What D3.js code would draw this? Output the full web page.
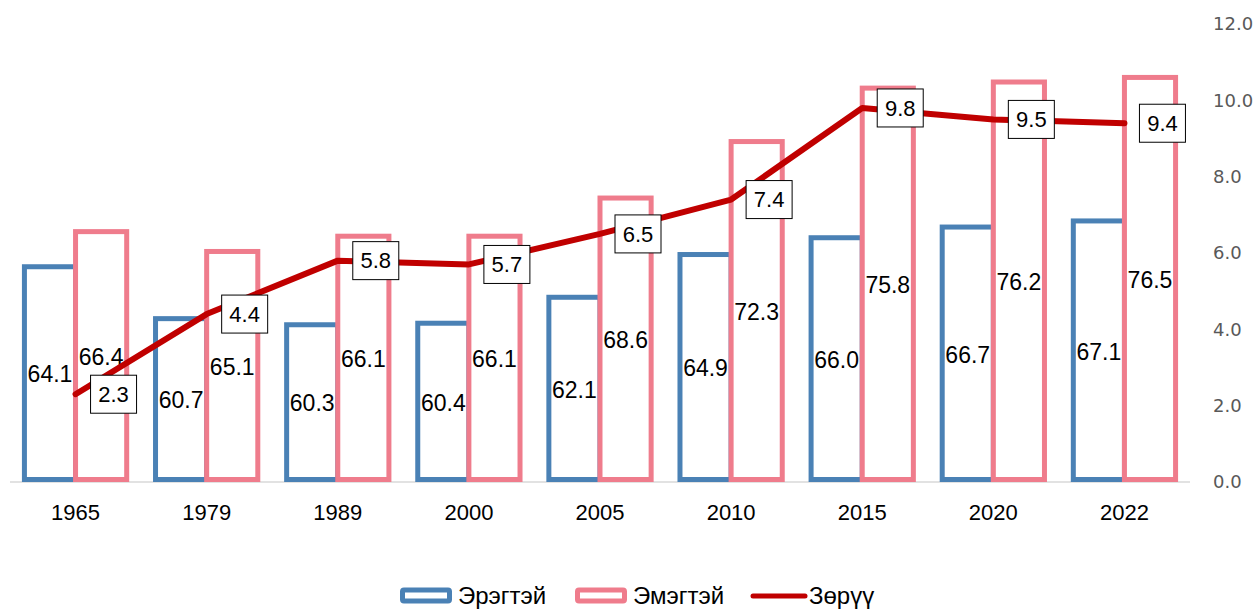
<!DOCTYPE html>
<html><head><meta charset="utf-8">
<script src="https://cdn.jsdelivr.net/npm/d3@7"></script>
<style>body{margin:0;background:#fff}svg{display:block;font-family:Arial,"Liberation Sans",sans-serif}</style>
</head><body><svg id="c" width="1256" height="609"></svg>
<script>
const years = ["1965","1979","1989","2000","2005","2010","2015","2020","2022"];
const male = [64.1,60.7,60.3,60.4,62.1,64.9,66.0,66.7,67.1];
const female = [66.4,65.1,66.1,66.1,68.6,72.3,75.8,76.2,76.5];
const gap = [2.3,4.4,5.8,5.7,6.5,7.4,9.8,9.5,9.4];
const rightTicks = [0,2,4,6,8,10,12];
const seriesNames = ["Эрэгтэй","Эмэгтэй","Зөрүү"];
const colors = {male:"#4A81B5", female:"#EF7C8C", gap:"#C00000"};

(function(){
const svg = d3.select("#c");
const plotTop = 24, plotBottom = 482, plotLeft = 10, plotRight = 1190;
const x0 = d3.scaleBand().domain(years).range([plotLeft,plotRight]).paddingInner(0.22).paddingOuter(0.11);
const x1 = d3.scaleBand().domain(["m","f"]).range([0,x0.bandwidth()]);
const yL = d3.scaleLinear().domain([50,80]).range([plotBottom,plotTop]);
const yR = d3.scaleLinear().domain([0,12]).range([plotBottom,plotTop]);

svg.append("line").attr("x1",plotLeft).attr("x2",plotRight).attr("y1",plotBottom).attr("y2",plotBottom)
  .attr("stroke","#d9d9d9").attr("stroke-width",1.5);

const ax = svg.append("g").attr("transform",`translate(${plotRight},0)`)
  .call(d3.axisRight(yR).tickValues(rightTicks).tickFormat(d3.format(".1f")).tickSize(0).tickPadding(23));
ax.select(".domain").remove();
ax.selectAll("text").attr("fill","#595959").style("font-size","18px").style("font-family","'DejaVu Sans', sans-serif");

const xa = svg.append("g").attr("transform",`translate(0,${plotBottom})`)
  .call(d3.axisBottom(x0).tickSize(0).tickPadding(22));
xa.select(".domain").remove();
xa.selectAll("text").attr("fill","#000").style("font-size","22px").style("font-family","Arial, 'Liberation Sans', sans-serif");

const data = years.map((y,i)=>({y, m:male[i], f:female[i], g:gap[i]}));
const sw = 5;
const groups = svg.append("g").selectAll("g").data(data).join("g")
  .attr("transform",d=>`translate(${x0(d.y)},0)`);
groups.append("rect").attr("x",x1("m")).attr("width",x1.bandwidth())
  .attr("y",d=>yL(d.m)).attr("height",d=>plotBottom-yL(d.m)-sw/2)
  .attr("fill","#fff").attr("stroke",colors.male).attr("stroke-width",sw);
groups.append("rect").attr("x",x1("f")).attr("width",x1.bandwidth())
  .attr("y",d=>yL(d.f)).attr("height",d=>plotBottom-yL(d.f)-sw/2)
  .attr("fill","#fff").attr("stroke",colors.female).attr("stroke-width",sw);
groups.append("text").attr("x",x1("m")+x1.bandwidth()/2).attr("y",d=>(yL(d.m)+plotBottom)/2)
  .attr("text-anchor","middle").attr("dy","0.35em").style("font-size","23px").text(d=>d.m.toFixed(1));
groups.append("text").attr("x",x1("f")+x1.bandwidth()/2).attr("y",d=>(yL(d.f)+plotBottom)/2)
  .attr("text-anchor","middle").attr("dy","0.35em").style("font-size","23px").text(d=>d.f.toFixed(1));

const cx = d=>x0(d.y)+x0.bandwidth()/2;
svg.append("path").datum(data)
  .attr("d",d3.line().x(cx).y(d=>yR(d.g)))
  .attr("fill","none").attr("stroke",colors.gap).attr("stroke-width",6)
  .attr("stroke-linecap","round").attr("stroke-linejoin","round");

const lg = svg.append("g").selectAll("g").data(data).join("g")
  .attr("transform",d=>`translate(${cx(d)+15},${yR(d.g)})`);
lg.append("rect").attr("x",0).attr("y",-19).attr("width",46).attr("height",38)
  .attr("fill","#fff").attr("stroke","#000").attr("stroke-width",1);
lg.append("text").attr("x",23).attr("y",0).attr("dy","0.35em").attr("text-anchor","middle")
  .style("font-size","22px").text(d=>d.g.toFixed(1));

const leg = svg.append("g");
const ly = 596;
const legItems = [
  {name:seriesNames[0], type:"bar", color:colors.male, x:400},
  {name:seriesNames[1], type:"bar", color:colors.female, x:575},
  {name:seriesNames[2], type:"line", color:colors.gap, x:751}
];
legItems.forEach(it=>{
  if(it.type==="bar"){
    leg.append("rect").attr("x",it.x+2.5).attr("y",ly-6).attr("width",47).attr("height",11)
      .attr("fill","#fff").attr("stroke",it.color).attr("stroke-width",5).attr("rx",1.5);
  } else {
    leg.append("line").attr("x1",it.x+2).attr("x2",it.x+54).attr("y1",ly).attr("y2",ly)
      .attr("stroke",it.color).attr("stroke-width",5).attr("stroke-linecap","round");
  }
  leg.append("text").attr("x",it.x+58).attr("y",ly).attr("dy","0.35em").style("font-size","24px").text(it.name);
});
})();
</script></body></html>
